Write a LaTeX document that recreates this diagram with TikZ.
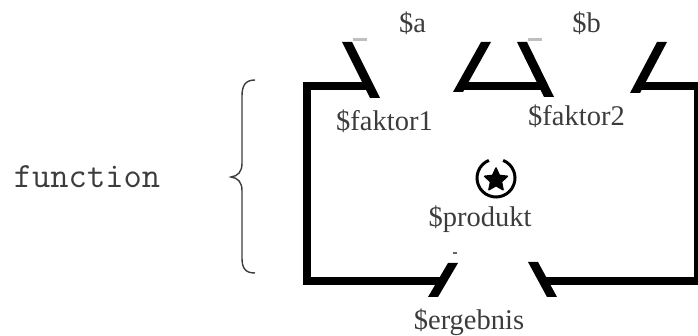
\documentclass[tikz,border=0pt]{standalone}
\usepackage{fontspec}
\setmainfont{Liberation Serif}
\usetikzlibrary{shapes.geometric}
\definecolor{txt}{HTML}{3C3C3C}
\tikzset{
  lbl/.style={anchor=base, inner sep=0pt, text=txt, font=\fontsize{28.5}{30}\selectfont},
  fn/.style={anchor=base, inner sep=0pt, text=txt, font=\ttfamily\fontsize{35.5}{37}\selectfont},
  boxline/.style={line width=8pt, line cap=butt, line join=miter},
  slant/.style={fill=black},
  ghost/.style={line width=3pt, color=black!25},
  bracestroke/.style={line width=1.4pt, color=txt}
}
\begin{document}
\begin{tikzpicture}[x=1pt,y=-1pt]
\useasboundingbox (0,0) rectangle (698,336);
% labels
\node[fn] (fn) at (87,188) {function};
\node[lbl] (a) at (412.5,33) {\$a};
\node[lbl] (b) at (586.5,33) {\$b};
\node[lbl] (f1) at (384.5,131) {\$faktor1};
\node[lbl] (f2) at (576.5,126) {\$faktor2};
\node[lbl] (prod) at (480,227) {\$produkt};
\node[lbl] (erg) at (469,329) {\$ergebnis};
% brace
\draw[bracestroke] (255,80) .. controls (245,80) and (242,86) .. (242,96) -- (242,163)
  .. controls (242,172) and (238,176) .. (231,177)
  .. controls (238,178) and (242,182) .. (242,191) -- (242,258)
  .. controls (242,268) and (245,273) .. (255,273);
% box bars
\draw[boxline] (371,86) -- (307,86) -- (307,281) -- (443,281);
\draw[boxline] (460,86) -- (545,86);
\draw[boxline] (638,86) -- (698,86) -- (698,281) -- (543,281);
% slanted port strokes (top)
\fill[slant] (342,42) -- (352,42) -- (380,98) -- (370,98) -- cycle;
\fill[slant] (481,42) -- (491,42) -- (463,92) -- (453,92) -- cycle;
\fill[slant] (517,42) -- (527,42) -- (554,97) -- (544,97) -- cycle;
\fill[slant] (657,42) -- (667,42) -- (640,93) -- (630,93) -- cycle;
% slanted port strokes (bottom)
\fill[slant] (448,263) -- (458,263) -- (438,297) -- (428,297) -- cycle;
\fill[slant] (528,262) -- (538,262) -- (557,297) -- (547,297) -- cycle;
% faint marks
\draw[ghost] (353,40) -- (367,40);
\draw[ghost] (528,40) -- (542,40);
\draw[line width=2.5pt, color=black!60] (453,253) -- (457,253);
% circled star
\draw[line width=3pt] (496,178) ++(-68:19) arc[start angle=-68, end angle=248, radius=19];
\node[star, star points=5, star point ratio=2.1, fill=black, draw=black, line join=round, line width=1.5pt, minimum size=24pt, inner sep=0pt] (star) at (496,180) {};
\end{tikzpicture}
\end{document}
